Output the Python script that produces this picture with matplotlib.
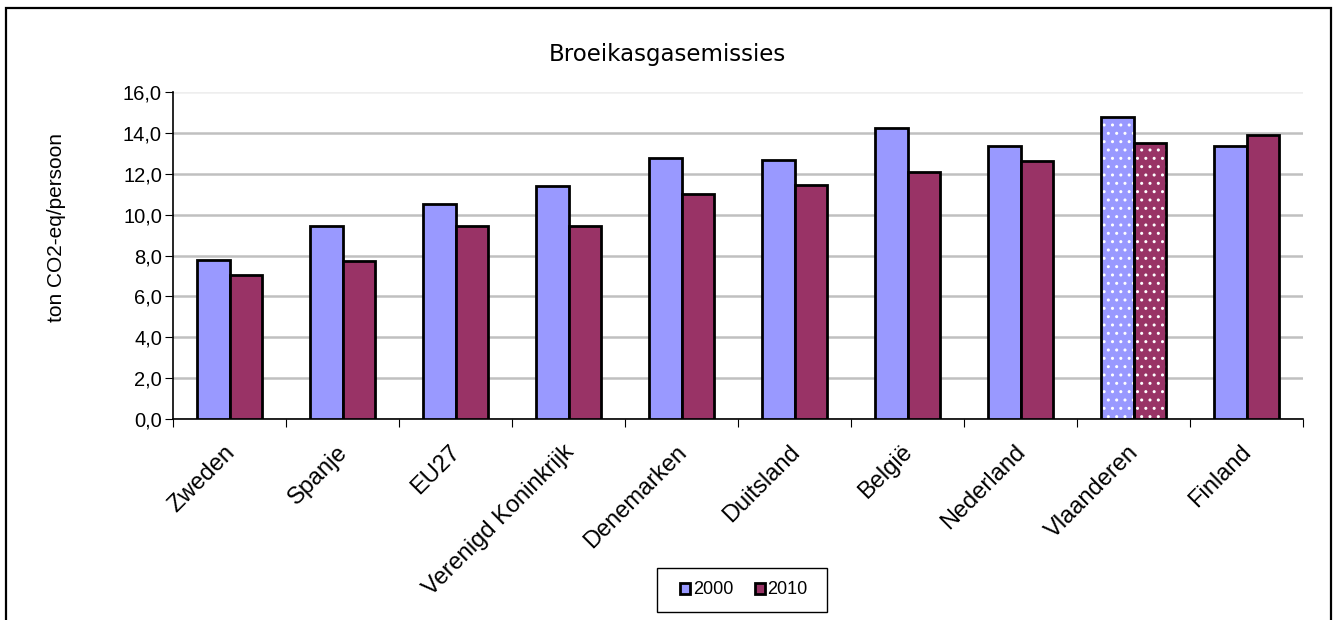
import numpy as np
import matplotlib.pyplot as plt
from matplotlib.patches import Rectangle
from matplotlib.transforms import ScaledTranslation

plt.rcParams['font.family'] = ['Liberation Sans', 'DejaVu Sans']

landen = ["Zweden", "Spanje", "EU27", "Verenigd Koninkrijk", "Denemarken",
          "Duitsland", "België", "Nederland", "Vlaanderen", "Finland"]
y2000 = [7.76, 9.43, 10.5, 11.4, 12.75, 12.65, 14.25, 13.36, 14.79, 13.37]
y2010 = [7.05, 7.72, 9.43, 9.45, 11.0, 11.46, 12.07, 12.62, 13.49, 13.89]
yticks = [0, 2, 4, 6, 8, 10, 12, 14, 16]

kleur2000 = "#9999ff"
kleur2010 = "#993366"

fig = plt.figure(figsize=(13.34, 6.2), dpi=100)
ax = fig.add_axes([173/1334, 1-419/620, 1130/1334, 327/620])

x = np.arange(len(landen))
w = 0.285
hl = landen.index("Vlaanderen")

for i in range(len(landen)):
    for off, val, kl in [(-w/2, y2000[i], kleur2000), (w/2, y2010[i], kleur2010)]:
        if i == hl:
            # gestippeld voor Vlaanderen
            ax.bar(x[i]+off, val, w, color=kl, edgecolor="white", hatch="..", linewidth=0, zorder=3)
            ax.bar(x[i]+off, val, w, fill=False, edgecolor="black", linewidth=2, zorder=4)
        else:
            ax.bar(x[i]+off, val, w, color=kl, edgecolor="black", linewidth=2, zorder=3)

ax.set_xlim(-0.5, len(landen)-0.5)
ax.set_ylim(0, 16)
ax.set_yticks(yticks)
ax.set_yticklabels([f"{v:.1f}".replace(".", ",") for v in yticks], fontsize=14.5)
ax.yaxis.grid(True, color="#c0c0c0", linewidth=1.8, zorder=0)
ax.set_axisbelow(True)
ax.get_ygridlines()[-1].set_color("#eeeeee")

ax.set_xticks(np.arange(len(landen)+1)-0.5, minor=False)
ax.set_xticklabels([])
ax.set_xticks(x, minor=True)
ax.set_xticklabels(landen, minor=True, rotation=45, ha="right", va="top",
                   rotation_mode="anchor", fontsize=17)
ax.tick_params(axis="x", which="minor", length=0, pad=16)
ax.tick_params(axis="x", which="major", length=6, direction="out")
ax.tick_params(axis="y", length=6, direction="out", pad=2)

for s in ["top", "right"]:
    ax.spines[s].set_visible(False)
ax.spines["left"].set_linewidth(1.2)
ax.spines["bottom"].set_linewidth(1.2)

fig.text(57/1334, 1-228/620, "ton CO2-eq/persoon", rotation=90, ha="center", va="center", fontsize=15)
fig.text(667/1334, 1-55/620, "Broeikasgasemissies", ha="center", va="center", fontsize=16.5,
         family="DejaVu Sans")

leg = ax.legend(["2000", "2010"], loc="center", bbox_to_anchor=(744/1334, 1-590/620),
                bbox_transform=fig.transFigure, ncol=2, fontsize=13, frameon=False,
                handlelength=0.55, handleheight=0.55, handletextpad=0.15,
                columnspacing=1.2, borderpad=0, borderaxespad=0)
for h in leg.legend_handles:
    h.set_hatch(None)
    h.set_edgecolor("black")
    h.set_linewidth(2)
fig.patches.append(Rectangle((657/1334, 1-612/620), 170/1334, 44/620, transform=fig.transFigure,
                             fill=False, edgecolor="black", linewidth=1.0))

fig.patches.append(Rectangle((6/1334, -10/620), 1325/1334, 622/620, transform=fig.transFigure,
                             fill=False, edgecolor="black", linewidth=1.6))

# labels iets naar links schuiven
verschuif = ScaledTranslation(-6/100, 0, fig.dpi_scale_trans)
for lab in ax.get_xticklabels(minor=True):
    lab.set_transform(lab.get_transform() + verschuif)

plt.savefig("out.png", dpi=100)
